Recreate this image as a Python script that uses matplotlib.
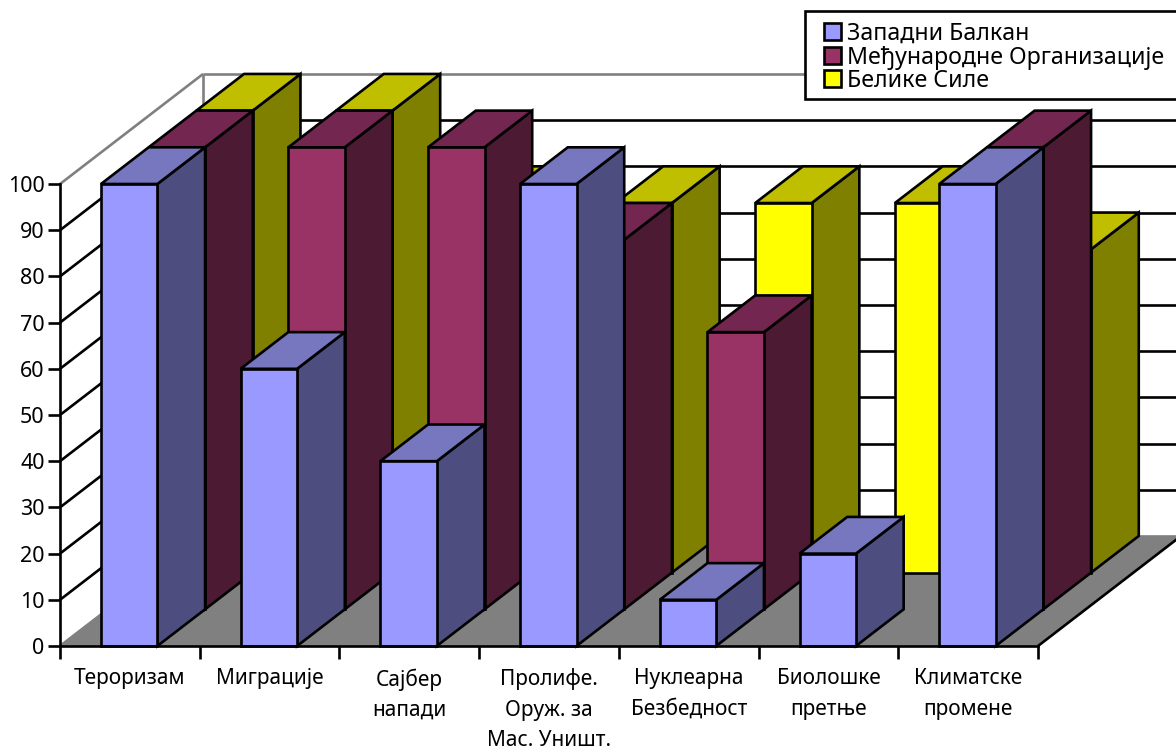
# -*- coding: utf-8 -*-
import matplotlib
matplotlib.use("Agg")
import matplotlib.pyplot as plt
from matplotlib.patches import Patch, Polygon, Rectangle

plt.rcParams["font.family"] = ["Noto Sans", "DejaVu Sans"]

categories = ["Тероризам", "Миграције", "Сајбер\nнапади", "Пролифе.\nОруж. за\nМас. Уништ.",
              "Нуклеарна\nБезбедност", "Биолошке\nпретње", "Климатске\nпромене"]
series_names = ["Западни Балкан", "Међународне Организације", "Белике Силе"]
zapadni = [100, 60, 40, 100, 10, 20, 100]
medjunarodne = [100, 100, 100, 80, 60, 0, 100]
velike = [100, 100, 80, 80, 80, 80, 70]
y_ticks = list(range(0, 101, 10))

# (front, side, top) shades per series
shades = [("#9999FF", "#4D4D80", "#7777BF"),
          ("#993366", "#4D1A33", "#732650"),
          ("#FFFF00", "#808000", "#BFBF00")]

W, H = 1176, 751
DX = 0.3414      # depth step along x, in categories
DY = 7.94        # depth step along y, in value units
BAR_START = 0.293
BAR_W = 0.404
LW = 1.9

fig = plt.figure(figsize=(W / 100, H / 100), dpi=100, facecolor="white")
ax = fig.add_axes([60 / W, (H - 646) / H, 978 / W, 462 / H])
ax.set_xlim(0, 7)
ax.set_ylim(0, 100)
ax.patch.set_visible(False)


def poly(pts, fc="none", ec="black", z=1, lw=LW):
    ax.add_patch(Polygon(pts, closed=True, facecolor=fc, edgecolor=ec, linewidth=lw,
                         joinstyle="miter", clip_on=False, zorder=z))


def line(xs, ys, color="black", z=1):
    ax.plot(xs, ys, color=color, lw=LW, clip_on=False, zorder=z, solid_capstyle="butt")


def box(x, depth, value, colors, z):
    """Oblique 3D bar: side and top faces first, front face last."""
    front, side, top = colors
    x0 = x + depth * DX
    x1 = x0 + BAR_W
    y0 = depth * DY
    y1 = y0 + value
    poly([(x1, y0), (x1 + DX, y0 + DY), (x1 + DX, y1 + DY), (x1, y1)], fc=side, z=z)
    poly([(x0, y1), (x1, y1), (x1 + DX, y1 + DY), (x0 + DX, y1 + DY)], fc=top, z=z)
    poly([(x0, y0), (x1, y0), (x1, y1), (x0, y1)], fc=front, z=z)


back_x = 3 * DX
back_y = 3 * DY

# floor and walls
poly([(0, 0), (back_x, back_y), (7 + back_x, back_y), (7, 0)], fc="#808080", ec="none", z=1)
line([0, back_x], [0, back_y], color="#808080", z=1.5)
line([back_x, 7 + back_x], [back_y, back_y], color="#808080", z=1.5)
line([7, 7 + back_x], [0, back_y], z=1.5)
for t in y_ticks[1:-1]:
    line([0, back_x], [t, t + back_y])
    line([back_x, 7 + back_x], [t + back_y, t + back_y])
line([0, back_x], [100, 100 + back_y], color="#808080")
line([back_x, back_x], [back_y, 100 + back_y], color="#808080")
line([back_x, 7 + back_x], [100 + back_y, 100 + back_y], color="#808080")

# back series first so the front rows cover them
rows = [zapadni, medjunarodne, velike]
for depth in (2, 1, 0):
    for i, v in enumerate(rows[depth]):
        if v > 0:
            box(i + BAR_START, depth, v, shades[depth], z=3 + (2 - depth))

for s in ("top", "right"):
    ax.spines[s].set_visible(False)
for s in ("left", "bottom"):
    ax.spines[s].set_linewidth(LW)
    ax.spines[s].set_zorder(10)

ax.set_yticks(y_ticks)
ax.tick_params(axis="y", length=9, width=LW, labelsize=15.5, pad=2, colors="black")
ax.set_xticks(range(8))
ax.set_xticklabels([])
ax.tick_params(axis="x", which="major", length=9, width=LW)
ax.set_xticks([i + 0.5 for i in range(7)], minor=True)
ax.set_xticklabels(categories, minor=True, fontsize=15, linespacing=1.58)
ax.tick_params(axis="x", which="minor", length=0, pad=16)

# legend frame runs past the right edge of the canvas
fig.add_artist(Rectangle((805 / W, (H - 99) / H), 400 / W, 88 / H, transform=fig.transFigure,
                         facecolor="white", edgecolor="black", linewidth=LW, zorder=15))
handles = [Patch(facecolor=c[0], edgecolor="black", linewidth=LW) for c in shades]
leg = fig.legend(handles, series_names, loc="upper left",
                 bbox_to_anchor=(824 / W, (H - 22) / H),
                 fontsize=16.7, frameon=False, borderaxespad=0, borderpad=0,
                 labelspacing=-0.02, handlelength=0.75, handleheight=0.75, handletextpad=0.25)
leg.set_zorder(20)

fig.savefig("out.png", dpi=100)
